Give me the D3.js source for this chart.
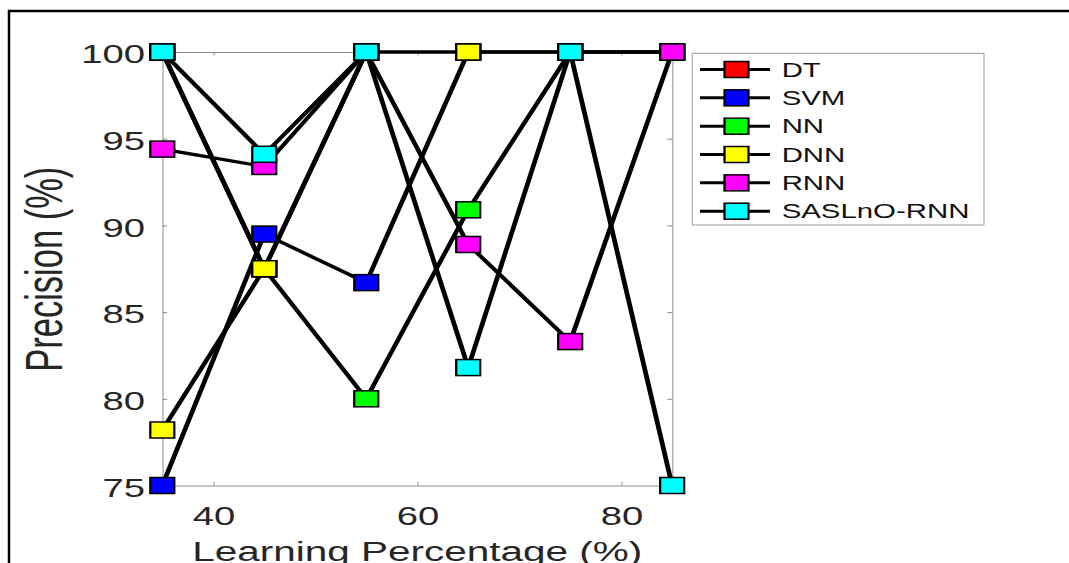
<!DOCTYPE html>
<html>
<head>
<meta charset="utf-8">
<script src="https://cdn.jsdelivr.net/npm/d3@7"></script>
<style>
  html, body { margin: 0; padding: 0; background: #ffffff; }
  svg { display: block; }
  text { font-family: "Liberation Sans", Arial, Helvetica, sans-serif; }
</style>
</head>
<body>
<svg id="chart" width="1069" height="563"></svg>
<script>
// Learning percentage (x) and precision (%) for each classifier
const learningPct = [35, 45, 55, 65, 75, 85];
const seriesNames = ["DT", "SVM", "NN", "DNN", "RNN", "SASLnO-RNN"];
const dtPrecision     = [100, 87.5, 100, 100, 100, 100];
const svmPrecision    = [75, 89.5, 86.7, 100, 100, 100];
const nnPrecision     = [100, 87.5, 80.0, 90.9, 100, 100];
const dnnPrecision    = [78.2, 87.5, 100, 100, 100, 100];
const rnnPrecision    = [94.4, 93.4, 100, 88.9, 83.3, 100];
const saslnoPrecision = [100, 94.1, 100, 81.8, 100, 75];
const seriesColors = ["#ff0000", "#0000ff", "#00ff00", "#ffff00", "#ff00ff", "#00ffff"];
const xTickValues = [40, 60, 80];
const yTickValues = [75, 80, 85, 90, 95, 100];

const seriesValues = [dtPrecision, svmPrecision, nnPrecision, dnnPrecision, rnnPrecision, saslnoPrecision];

const svg = d3.select("#chart");
svg.append("rect").attr("width", 1069).attr("height", 563).attr("fill", "#ffffff");

// outer frame (top and left edges)
svg.append("path")
  .attr("d", "M9,563 L9,11 L1069,11")
  .attr("fill", "none").attr("stroke", "#000").attr("stroke-width", 2.5);

// the figure is drawn in a horizontally stretched coordinate system
const stretchX = 1.5;
const g = svg.append("g").attr("transform", `scale(${stretchX},1)`);

const x = d3.scaleLinear().domain([35, 85]).range([108.2, 448.1]);
const y = d3.scaleLinear().domain([75, 100]).range([485.5, 52]);

const axisColor = "#8c8c8c";
const textColor = "#262626";
const tickLen = 3.5;

function styleAxis(sel) {
  sel.selectAll("path.domain, line")
    .attr("stroke", axisColor)
    .attr("stroke-width", 1)
    .attr("vector-effect", "non-scaling-stroke");
  sel.selectAll("text").attr("fill", textColor);
}

// bottom axis
const gx = g.append("g")
  .attr("transform", `translate(0,${y(75)})`)
  .call(d3.axisBottom(x).tickValues(xTickValues).tickSizeInner(-tickLen).tickSizeOuter(0).tickPadding(21));
gx.selectAll("text").attr("font-size", 25.5);
styleAxis(gx);

// left axis
const gy = g.append("g")
  .attr("transform", `translate(${x(35)},0)`)
  .call(d3.axisLeft(y).tickValues(yTickValues).tickSizeInner(-tickLen * 1.4 / stretchX).tickSizeOuter(0).tickPadding(11.5));
gy.selectAll("text").attr("font-size", 25.5).attr("dy", "0.42em");
styleAxis(gy);

// top and right box edges with inward ticks
const gt = g.append("g")
  .attr("transform", `translate(0,${y(100)})`)
  .call(d3.axisTop(x).tickValues(xTickValues).tickSizeInner(-tickLen).tickSizeOuter(0).tickFormat(""));
styleAxis(gt);
const gr = g.append("g")
  .attr("transform", `translate(${x(85)},0)`)
  .call(d3.axisRight(y).tickValues(yTickValues).tickSizeInner(-tickLen * 1.4 / stretchX).tickSizeOuter(0).tickFormat(""));
styleAxis(gr);

// axis titles
g.append("text")
  .attr("x", (x(35) + x(85)) / 2).attr("y", 561)
  .attr("text-anchor", "middle").attr("font-size", 27).attr("fill", textColor)
  .text("Learning Percentage (%)");

g.append("text")
  .attr("transform", `translate(41.3,269.2) rotate(-90)`)
  .attr("text-anchor", "middle").attr("font-size", 34.5).attr("fill", textColor)
  .text("Precision (%)");

// series: line then square markers, later series on top
const line = d3.line().x(d => x(d[0])).y(d => y(d[1]));
const markerW = 16, markerH = 16;
seriesValues.forEach((vals, i) => {
  const pts = learningPct.map((p, k) => [p, vals[k]]);
  const sg = g.append("g");
  sg.append("path")
    .attr("d", line(pts))
    .attr("fill", "none").attr("stroke", "#000").attr("stroke-width", 3.2)
    .attr("stroke-linejoin", "round");
  sg.selectAll("rect").data(pts).join("rect")
    .attr("x", d => x(d[0]) - markerW / 2)
    .attr("y", d => y(d[1]) - markerH / 2)
    .attr("width", markerW).attr("height", markerH)
    .attr("fill", seriesColors[i])
    .attr("stroke", "#000").attr("stroke-width", 1.5);
});

// legend
const legX0 = 461.5, legY0 = 53.3, legW = 194.5, legH = 171.7;
const lg = g.append("g");
lg.append("rect")
  .attr("x", legX0).attr("y", legY0).attr("width", legW).attr("height", legH)
  .attr("fill", "#fff").attr("stroke", "#999").attr("stroke-width", 1)
  .attr("vector-effect", "non-scaling-stroke");
const rowY = d3.scaleLinear().domain([0, 5]).range([69.5, 211.2]);
seriesNames.forEach((name, i) => {
  const cy = rowY(i);
  lg.append("line")
    .attr("x1", 466.7).attr("x2", 513.3).attr("y1", cy).attr("y2", cy)
    .attr("stroke", "#000").attr("stroke-width", 3);
  lg.append("rect")
    .attr("x", 491 - markerW / 2).attr("y", cy - markerH / 2)
    .attr("width", markerW).attr("height", markerH)
    .attr("fill", seriesColors[i]).attr("stroke", "#000").attr("stroke-width", 1.5);
  lg.append("text")
    .attr("x", 521.1).attr("y", cy).attr("dy", "0.36em")
    .attr("font-size", 19.6).attr("fill", "#111")
    .text(name);
});
</script>
</body>
</html>
